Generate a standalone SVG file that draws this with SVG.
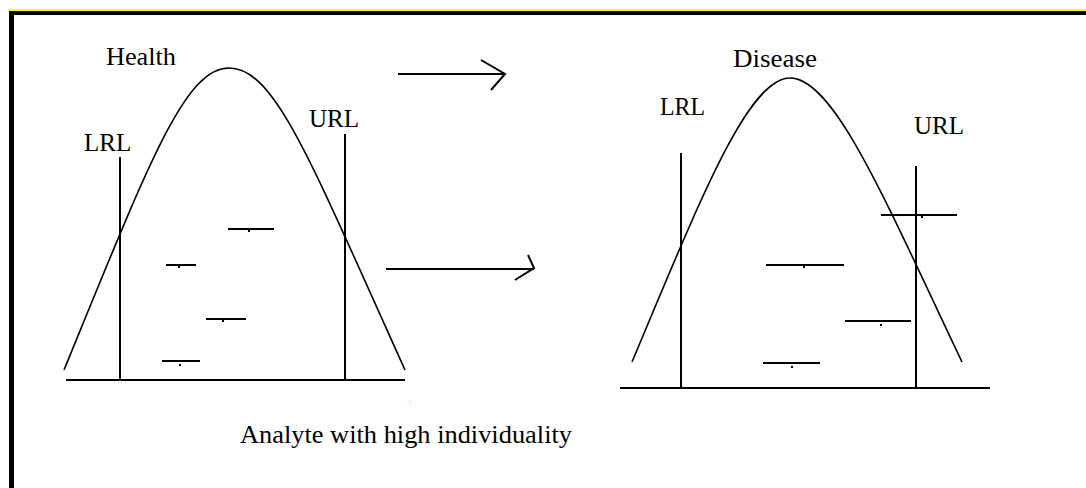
<svg xmlns="http://www.w3.org/2000/svg" width="1086" height="488" viewBox="0 0 1086 488">
<style>
.ln{stroke:#000;stroke-width:2;fill:none}
.cv{stroke:#000;stroke-width:1.6;fill:none}
.bar{stroke:#000;stroke-width:2}
.t{font-family:"Liberation Serif","Times New Roman",serif;font-size:25px;fill:#000}
</style>
<rect width="1086" height="488" fill="#fff"/>
<g id="frame">
<rect x="9" y="9" width="1077" height="2" fill="#ffff00"/>
<rect x="9" y="11" width="1077" height="4" fill="#000"/>
<rect x="9" y="11" width="5" height="477" fill="#000"/>
</g>
<g id="health">
<path class="cv" d="M64,370 C150,160 185,68 229,68 C275,68 310,160 405,370"/>
<line class="ln" x1="66" y1="380" x2="405" y2="380"/>
<line class="ln" x1="120" y1="157" x2="120" y2="381"/>
<line class="ln" x1="345" y1="134" x2="345" y2="381"/>
<text class="t" x="106" y="65" textLength="70" lengthAdjust="spacingAndGlyphs">Health</text>
<text class="t" x="84" y="151">LRL</text>
<text class="t" x="309" y="127">URL</text>
<line class="bar" x1="228" y1="229" x2="274" y2="229"/><rect x="248" y="230" width="2" height="2"/>
<line class="bar" x1="166" y1="265" x2="196" y2="265"/><rect x="178" y="266" width="2" height="2"/>
<line class="bar" x1="206" y1="319" x2="246" y2="319"/><rect x="222" y="320" width="2" height="2"/>
<line class="bar" x1="162" y1="361" x2="200" y2="361"/><rect x="179" y="364" width="2" height="2"/>
</g>
<g id="disease">
<path class="cv" d="M632,362 C700,200 748,78 790,78 C834,78 885,200 962,362"/>
<line class="ln" x1="620" y1="388" x2="990" y2="388"/>
<line class="ln" x1="681" y1="153" x2="681" y2="388"/>
<line class="ln" x1="916" y1="166" x2="916" y2="388"/>
<text class="t" x="733" y="67" textLength="84" lengthAdjust="spacingAndGlyphs">Disease</text>
<text class="t" x="660" y="115" textLength="45" lengthAdjust="spacingAndGlyphs">LRL</text>
<text class="t" x="914" y="134">URL</text>
<line class="bar" x1="881" y1="215" x2="957" y2="215"/><rect x="921" y="216" width="2" height="2"/>
<line class="bar" x1="766" y1="265" x2="844" y2="265"/><rect x="803" y="266" width="2" height="2"/>
<line class="bar" x1="845" y1="321" x2="911" y2="321"/><rect x="880" y="324" width="2" height="2"/>
<line class="bar" x1="763" y1="363" x2="820" y2="363"/><rect x="791" y="366" width="2" height="2"/>
</g>
<g id="connectors">
<path class="ln" d="M398,74 H505 M481,60 L505,74 L491,90"/>
<path class="ln" d="M386,269 H534 M528,255 L534,268 L515,280"/>
</g>
<rect x="410" y="401" width="1" height="1" fill="#00ffcc"/>
<text class="t" x="240" y="443" textLength="332" lengthAdjust="spacingAndGlyphs">Analyte with high individuality</text>
</svg>
